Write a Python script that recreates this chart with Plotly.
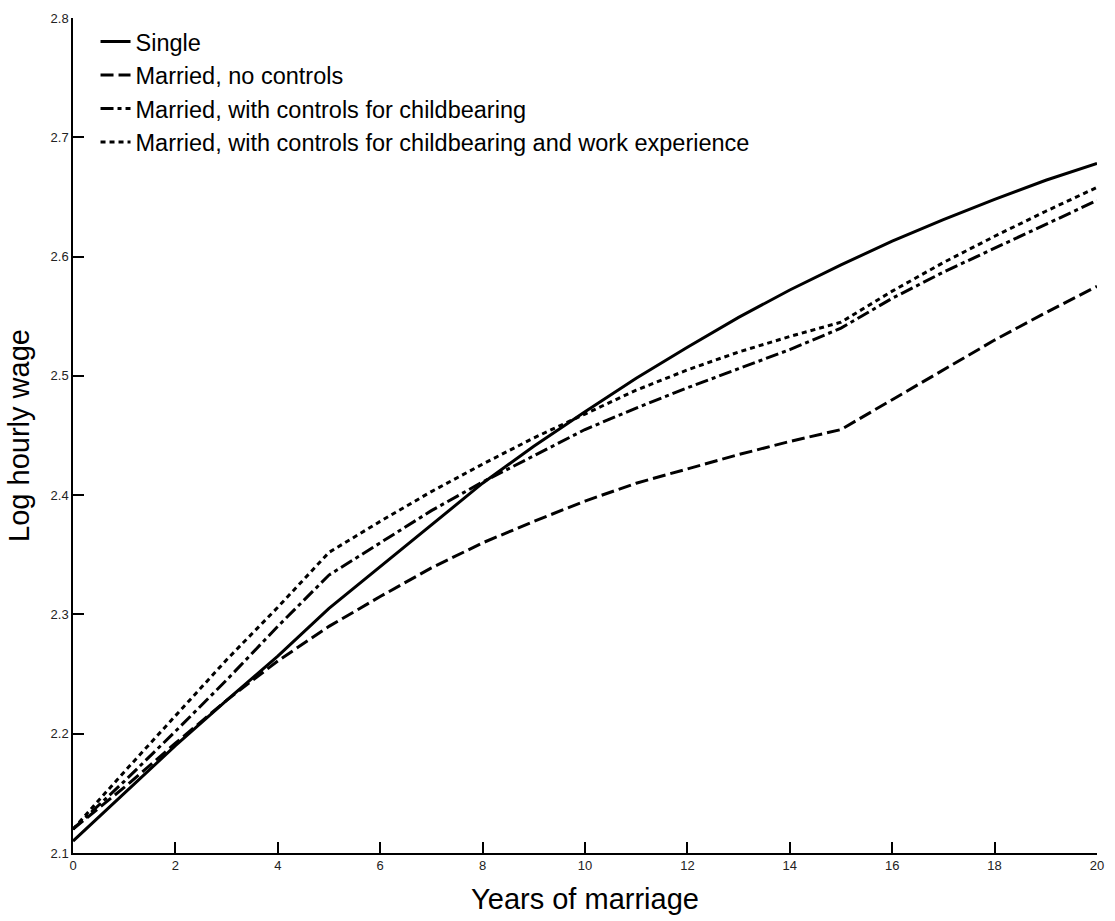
import plotly.graph_objects as go

years = [0, 1, 2, 3, 4, 5, 6, 7, 8, 9, 10, 11, 12, 13, 14, 15, 16, 17, 18, 19, 20]
single = [2.110, 2.150, 2.190, 2.228, 2.265, 2.305, 2.340, 2.375, 2.410, 2.441, 2.470, 2.498, 2.524, 2.549,
          2.572, 2.593, 2.613, 2.631, 2.648, 2.664, 2.678]
married_no_controls = [2.120, 2.155, 2.192, 2.228, 2.261, 2.290, 2.315, 2.339, 2.360, 2.378, 2.395, 2.410,
                       2.422, 2.434, 2.445, 2.455, 2.480, 2.505, 2.530, 2.553, 2.575]
married_childbearing = [2.120, 2.160, 2.202, 2.245, 2.290, 2.333, 2.360, 2.387, 2.411, 2.433, 2.455, 2.473,
                        2.490, 2.506, 2.522, 2.540, 2.565, 2.587, 2.607, 2.627, 2.647]
married_child_work = [2.120, 2.168, 2.215, 2.262, 2.306, 2.352, 2.378, 2.403, 2.426, 2.448, 2.468, 2.488,
                      2.505, 2.520, 2.533, 2.545, 2.571, 2.595, 2.617, 2.638, 2.658]

series_names = [
    "Single",
    "Married, no controls",
    "Married, with controls for childbearing",
    "Married, with controls for childbearing and work experience",
]
series_values = [single, married_no_controls, married_childbearing, married_child_work]
dashes = ["solid", "13px,5px", "13px,4px,4px,4px", "5px,4px"]

fig = go.Figure()
for name, vals, dash in zip(series_names, series_values, dashes):
    fig.add_trace(go.Scatter(
        x=years, y=vals, mode="lines", name=name,
        line=dict(color="black", width=3, dash=dash),
    ))

fig.update_layout(
    width=1115, height=921,
    margin=dict(l=73, r=11, t=15, b=63),
    paper_bgcolor="white", plot_bgcolor="white",
    font=dict(family="Liberation Sans, Arial, sans-serif", color="black"),
    showlegend=True,
    legend=dict(
        x=0.022, y=0.998, xanchor="left", yanchor="top",
        bgcolor="rgba(0,0,0,0)", borderwidth=0,
        font=dict(size=23.5, color="black"),
        tracegroupgap=0, itemwidth=30,
    ),
)
fig.update_xaxes(
    range=[0, 20], dtick=2, tick0=0,
    showline=True, linecolor="black", linewidth=1.5, mirror=False,
    ticks="inside", ticklen=11, tickwidth=1.5, tickcolor="black",
    showgrid=False, zeroline=False,
    tickfont=dict(size=13, color="#222", family="Liberation Sans Narrow, Arial Narrow, Arial, sans-serif"),
    title=dict(text="Years of marriage", font=dict(size=29), standoff=16),
)
fig.update_yaxes(
    range=[2.1, 2.8], dtick=0.1, tick0=2.1, tickformat=".1f",
    showline=True, linecolor="black", linewidth=1.5, mirror=False,
    ticks="inside", ticklen=11, tickwidth=1.5, tickcolor="black",
    showgrid=False, zeroline=False,
    tickfont=dict(size=13, color="#222", family="Liberation Sans Narrow, Arial Narrow, Arial, sans-serif"),
    title=dict(text="Log hourly wage", font=dict(size=29), standoff=12),
)

post = (
    "document.documentElement.style.margin='0';"
    "document.documentElement.style.overflow='hidden';"
    "document.body.style.margin='0';"
    "document.body.style.overflow='hidden';"
)
fig.write_html("out.html", post_script=post, config={"displayModeBar": False})
